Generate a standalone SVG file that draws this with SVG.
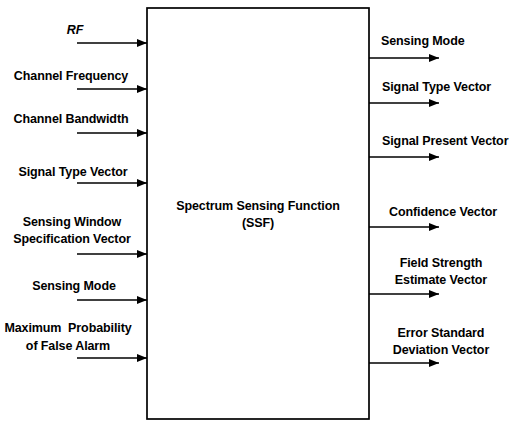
<svg xmlns="http://www.w3.org/2000/svg" width="516" height="421" viewBox="0 0 516 421">
<defs>
<marker id="ah" markerWidth="10" markerHeight="8" refX="10" refY="4" orient="auto" markerUnits="userSpaceOnUse">
<path d="M0,0 L10,4 L0,8 Z" fill="#000"/>
</marker>
<style>
text{font-family:"Liberation Sans",Arial,sans-serif;font-size:12.5px;font-weight:bold;fill:#000;letter-spacing:-0.1px}
.l{text-anchor:start}
.m{text-anchor:middle}
.c line{stroke:#000;stroke-width:1.7;marker-end:url(#ah)}
</style>
</defs>
<rect width="516" height="421" fill="#fff"/>
<g id="ssf">
<rect x="147" y="8" width="222" height="411" fill="none" stroke="#000" stroke-width="1.7"/>
<text class="m" x="258" y="210">Spectrum Sensing Function</text>
<text class="m" x="258" y="227">(SSF)</text>
</g>
<g id="in-rf"><text class="m" x="75" y="34" font-style="italic">RF</text></g>
<g id="in-cf"><text class="m" x="71" y="80">Channel Frequency</text></g>
<g id="in-cb"><text class="m" x="71" y="123">Channel Bandwidth</text></g>
<g id="in-stv"><text class="m" x="73" y="176">Signal Type Vector</text></g>
<g id="in-swsv"><text class="m" x="72" y="226">Sensing Window</text><text class="m" x="72" y="243">Specification Vector</text></g>
<g id="in-sm"><text class="m" x="74" y="290">Sensing Mode</text></g>
<g id="in-mpfa"><text class="m" x="68" y="332" xml:space="preserve">Maximum  Probability</text><text class="m" x="68" y="350">of False Alarm</text></g>
<g id="out-sm"><text class="l" x="381" y="45">Sensing Mode</text></g>
<g id="out-stv"><text class="l" x="382" y="91">Signal Type Vector</text></g>
<g id="out-spv"><text class="l" x="382" y="145">Signal Present Vector</text></g>
<g id="out-cv"><text class="l" x="389" y="216">Confidence Vector</text></g>
<g id="out-fsev"><text class="m" x="441" y="267">Field Strength</text><text class="m" x="441" y="284">Estimate Vector</text></g>
<g id="out-esdv"><text class="m" x="441" y="337">Error Standard</text><text class="m" x="441" y="354">Deviation Vector</text></g>
<g id="connectors" class="c">
<line x1="77" y1="43" x2="147" y2="43"/>
<line x1="77" y1="89" x2="147" y2="89"/>
<line x1="77" y1="133" x2="147" y2="133"/>
<line x1="77" y1="183" x2="147" y2="183"/>
<line x1="77" y1="254" x2="147" y2="254"/>
<line x1="77" y1="300" x2="147" y2="300"/>
<line x1="77" y1="358" x2="147" y2="358"/>
<line x1="369" y1="58" x2="439" y2="58"/>
<line x1="369" y1="103" x2="439" y2="103"/>
<line x1="369" y1="157" x2="439" y2="157"/>
<line x1="369" y1="227" x2="439" y2="227"/>
<line x1="369" y1="294" x2="439" y2="294"/>
<line x1="369" y1="363" x2="439" y2="363"/>
</g>
</svg>
